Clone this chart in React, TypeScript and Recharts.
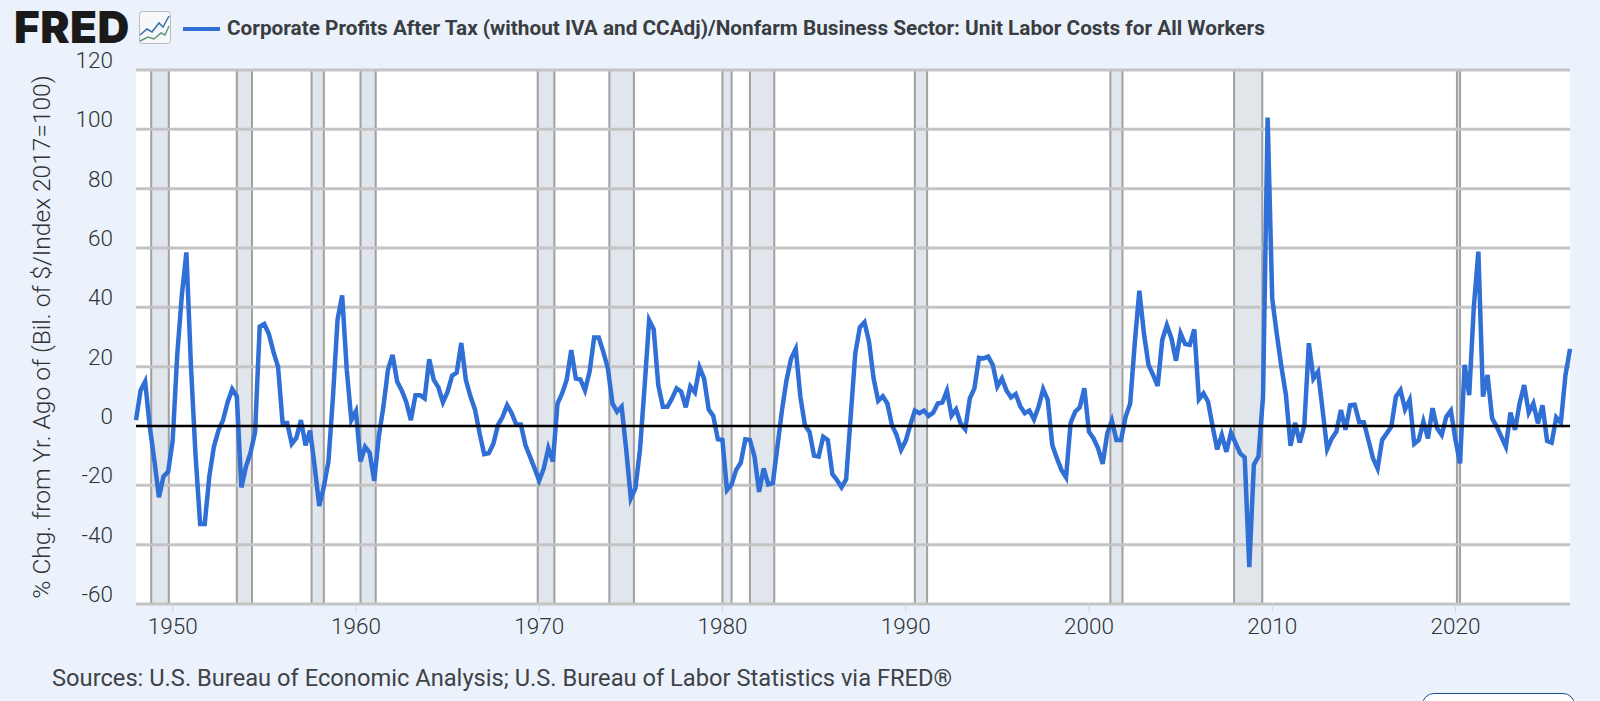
import {
  LineChart,
  Line,
  XAxis,
  YAxis,
  ReferenceArea,
  ReferenceLine,
} from "recharts"

const START_YEAR = 1948
const END_YEAR = 2026.25

// % change from a year ago, quarterly
const values1940s = [2, 12, 15, -0.2, -11.5, -24, -17, -15.5]
const values1950s = [
  -5, 24, 44, 58.5, 20, -10, -33, -33, -17, -7, -1.5, 2, 8, 12.4, 10, -20.7, -13.7, -9, -2, 33.5,
  34.4, 31, 25, 20, 1, 1, -6, -4, 2, -6.5, -1.5, -13.7, -27, -20.5, -12, 10, 36, 44, 19, 2,
]
const values1960s = [
  5, -12, -7, -9, -18.5, -3.5, 6.5, 19, 24, 15, 12, 8, 2, 10.4, 10.4, 9.3, 22.5, 15.5, 13, 8,
  11.5, 17, 18, 28, 15.5, 10, 5.5, -2.5, -9.5, -9.2, -6, 0.3, 3, 7, 4.3, 0.5, 0.5, -6.4, -10.3, -14.3,
]
const values1970s = [
  -18.4, -14.3, -7.5, -12, 7.6, 11, 15.5, 25.6, 16, 15.7, 12, 18.3, 29.8, 29.8, 25, 19.4, 7.6, 4.8, 6.5, -8,
  -24.4, -21, -8, 13, 35.7, 32.6, 13.8, 6.5, 6.5, 9.3, 12.7, 11.6, 6.3, 13.3, 11.3, 19.8, 16, 5.6, 3.4, -4.5,
]
const values1980s = [
  -4.7, -21.6, -19.7, -14.8, -12.4, -4.5, -4.7, -10.3, -22.2, -14.3, -19.7, -19.3, -7, 5.4, 15.5, 22.8, 26, 10, 0.3, -2,
  -10, -10.3, -3.6, -4.7, -16.2, -18.2, -20.7, -18, 3.3, 24.5, 33.3, 35, 28.4, 16, 8.5, 10, 7.6, 0.3, -3, -8,
]
const values1990s = [
  -5, 0.3, 5.2, 4.3, 5.2, 3.4, 4.5, 7.6, 7.9, 11.9, 3.5, 5.6, 0.9, -1.1, 9.3, 12.7, 23, 22.8, 23.4, 20.6,
  13.3, 16, 12, 9.7, 10.8, 6.7, 4.3, 5.2, 2.2, 6.5, 12.4, 8.8, -6.4, -10.9, -14.8, -17.3, 1.1, 4.8, 6.3, 12.7,
]
const values2000s = [
  -1.9, -4.2, -7.5, -12.8, -2.5, 1.8, -4.7, -4.7, 3.1, 7.6, 27.9, 45.6, 31.2, 20.6, 17.2, 13.5, 29, 34, 29.6, 22,
  31.2, 27.6, 27.3, 32.6, 9, 11, 8.2, -0.2, -7.9, -3, -8.7, -2.2, -5.8, -9.2, -10.6, -47.6, -13, -10.3, 10, 104,
]
const values2010s = [
  43, 31, 20, 10.4, -6.7, 1.1, -5.6, 0, 27.9, 16, 18.3, 5.4, -7.8, -4.2, -1.9, 5.4, -1.3, 7, 7.2, 1.3,
  1.3, -4.7, -10.9, -14.3, -4.7, -2.5, -0.2, 9.9, 12.1, 5.6, 8.8, -6, -4.7, 1.5, -4.2, 6, -0.8, -3, 3.1, 5.2,
]
const values2020s = [
  -4.7, -12.6, 20.6, 10.4, 40, 58.8, 9.9, 17.2, 2.6, -0.2, -3.6, -7, 4.5, -1.3, 7.6, 13.8, 4.5, 7.6, 0.9, 7,
  -5, -5.6, 2.9, 1.1, 17, 26,
]

const yearTicks = [1950, 1960, 1970, 1980, 1990, 2000, 2010, 2020]
const valueTicks = [-60, -40, -20, 0, 20, 40, 60, 80, 100, 120]

// NBER recessions as decimal years
const recessionStarts = [1948.83, 1953.5, 1957.58, 1960.25, 1969.92, 1973.83, 1980.0, 1981.5, 1990.5, 2001.17, 2007.92, 2020.08]
const recessionEnds = [1949.79, 1954.33, 1958.25, 1961.08, 1970.83, 1975.17, 1980.5, 1982.83, 1991.17, 2001.83, 2009.46, 2020.25]

const TITLE = "Corporate Profits After Tax (without IVA and CCAdj)/Nonfarm Business Sector: Unit Labor Costs for All Workers"
const Y_TITLE = "% Chg. from Yr. Ago of (Bil. of $/Index 2017=100)"
const SOURCES = "Sources: U.S. Bureau of Economic Analysis; U.S. Bureau of Labor Statistics via FRED®"

const allValues = [
  ...values1940s,
  ...values1950s,
  ...values1960s,
  ...values1970s,
  ...values1980s,
  ...values1990s,
  ...values2000s,
  ...values2010s,
  ...values2020s,
]
const data = allValues.map((value, i) => ({ year: START_YEAR + i / 4, value }))

const FONT = "Roboto, sans-serif"
const BLUE = "#2f6fd6"

export default function App() {
  return (
    <div style={{ position: "fixed", left: 0, top: 0, width: 1600, height: 701, overflow: "hidden", background: "#ebf2fb", fontFamily: FONT }}>
      <div style={{ position: "absolute", left: 14, top: 0, fontFamily: "Inter, sans-serif", fontWeight: 900, fontSize: 44, lineHeight: "54px", letterSpacing: 0.5, color: "#1a1a1a" }}>
        FRED
      </div>
      <svg width={32} height={33} style={{ position: "absolute", left: 139, top: 11 }}>
        <rect x={0.5} y={0.5} width={31} height={32} rx={3} fill="#f6f8fb" stroke="#bbb" />
        <polyline points="1,24 8,18 13,21 20,12 24,16 30,5" fill="none" stroke="#3a6ea8" strokeWidth={1.5} />
        <polyline points="1,30 9,26 15,28 22,22 26,24 30,15" fill="none" stroke="#5c9a7a" strokeWidth={1.5} />
      </svg>
      <div style={{ position: "absolute", left: 183, top: 27, width: 37, height: 4, background: BLUE }} />
      <div style={{ position: "absolute", left: 227, top: 16, fontWeight: 700, fontSize: 20.75, lineHeight: "24px", color: "#3a3d42", whiteSpace: "nowrap" }}>
        {TITLE}
      </div>

      {/* white plot area sits behind the chart */}
      <div style={{ position: "absolute", left: 136, top: 70, width: 1434, height: 534, background: "#ffffff" }} />

      <div style={{ position: "absolute", left: 0, top: 0 }}>
        <LineChart width={1600} height={701} data={data} margin={{ top: 70, right: 30, bottom: 67, left: 20 }}>
          {recessionStarts.map((start, i) => (
            <ReferenceArea
              key={start}
              x1={start}
              x2={recessionEnds[i]}
              y1={-60}
              y2={120}
              fill="#e1e5ec"
              fillOpacity={1}
              stroke="#a0a0a0"
              strokeWidth={2}
            />
          ))}
          {valueTicks.filter((t) => t !== 0).map((t) => (
            <ReferenceLine key={t} y={t} stroke="#c4c4c4" strokeWidth={3} />
          ))}
          <XAxis
            dataKey="year"
            type="number"
            domain={[START_YEAR, END_YEAR]}
            ticks={yearTicks}
            interval={0}
            axisLine={false}
            tickLine={{ stroke: "#ccd6eb" }}
            tickSize={8}
            tickMargin={6}
            tick={{ fontSize: 22.5, fontWeight: 300, fontFamily: FONT, fill: "#2f3237" }}
          />
          <YAxis
            width={116}
            domain={[-60, 120]}
            ticks={valueTicks}
            interval={0}
            axisLine={false}
            tickLine={false}
            tickMargin={17}
            dy={-10}
            tick={{ fontSize: 22.5, fontWeight: 300, fontFamily: FONT, fill: "#2f3237" }}
            label={{ value: Y_TITLE, angle: -90, position: "insideLeft", offset: 21, style: { fontSize: 24.5, fontWeight: 300, fontFamily: FONT, fill: "#2f3237", textAnchor: "middle" } }}
          />
          <Line
            dataKey="value"
            type="linear"
            stroke={BLUE}
            strokeWidth={4.5}
            dot={false}
            isAnimationActive={false}
          />
          <ReferenceLine y={0} stroke="#000000" strokeWidth={2.5} />
        </LineChart>
      </div>

      <div style={{ position: "absolute", left: 52, top: 664, fontSize: 23.7, lineHeight: "28px", color: "#3f4247", whiteSpace: "nowrap" }}>
        {SOURCES}
      </div>
      <div style={{ position: "absolute", left: 1422, top: 693, width: 151, height: 30, border: "1.5px solid #1f4e8c", borderRadius: 12, background: "#ffffff" }} />
    </div>
  )
}
